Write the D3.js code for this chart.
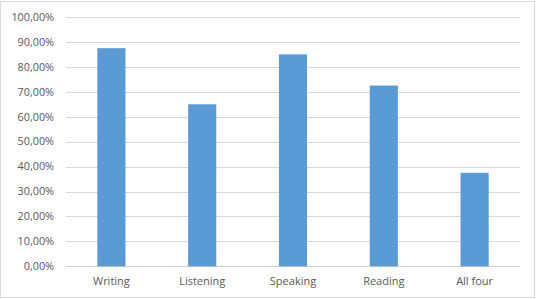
<!DOCTYPE html>
<html>
<head>
<meta charset="utf-8">
<script src="https://cdn.jsdelivr.net/npm/d3@7"></script>
<style>
  body { margin: 0; background: #fff; }
  svg { display: block; }
  text { font-family: "Open Sans", sans-serif; fill: #595959; }
</style>
</head>
<body>
<svg id="chart" width="540" height="299"></svg>
<script>
var categories = ['Writing', 'Listening', 'Speaking', 'Reading', 'All four'];
var values = [87.5, 65, 85, 72.5, 37.5];
var yTicks = [0, 10, 20, 30, 40, 50, 60, 70, 80, 90, 100];

var svg = d3.select('#chart');

// outer chart border
svg.append('rect')
	.attr('x', 0.5).attr('y', 1.5)
	.attr('width', 534).attr('height', 296)
	.attr('fill', '#fff')
	.attr('stroke', '#d9d9d9');

var x = d3.scaleBand()
	.domain(categories)
	.range([66, 520])
	.paddingInner(0.69)
	.paddingOuter(0.345);

var y = d3.scaleLinear()
	.domain([0, 100])
	.range([266.3, 17]);

var fmt = function(d) { return d3.format('.2f')(d).replace('.', ',') + '%'; };

// gridlines
svg.append('g')
	.selectAll('line')
	.data(yTicks)
	.enter().append('line')
	.attr('x1', 66).attr('x2', 520)
	.attr('y1', function(d) { return Math.round(y(d)) + 0.5; })
	.attr('y2', function(d) { return Math.round(y(d)) + 0.5; })
	.attr('stroke', function(d) { return d === 0 ? '#d0d0d0' : '#d9d9d9'; })
	.attr('stroke-width', 1);

// tick labels
svg.append('g')
	.selectAll('text')
	.data(yTicks)
	.enter().append('text')
	.attr('x', 54)
	.attr('y', function(d) { return y(d); })
	.attr('dy', '0.35em')
	.attr('text-anchor', 'end')
	.style('font-size', '10.8px')
	.text(fmt);

// bars
svg.append('g')
	.selectAll('rect')
	.data(values)
	.enter().append('rect')
	.attr('x', function(d, i) { return x(categories[i]); })
	.attr('width', x.bandwidth())
	.attr('y', function(d) { return y(d); })
	.attr('height', function(d) { return y(0) - y(d); })
	.attr('fill', '#5b9bd5');

// category labels
svg.append('g')
	.selectAll('text')
	.data(categories)
	.enter().append('text')
	.attr('x', function(d) { return x(d) + x.bandwidth() / 2; })
	.attr('y', 285)
	.attr('text-anchor', 'middle')
	.style('font-size', '11px')
	.text(function(d) { return d; });
</script>
</body>
</html>
